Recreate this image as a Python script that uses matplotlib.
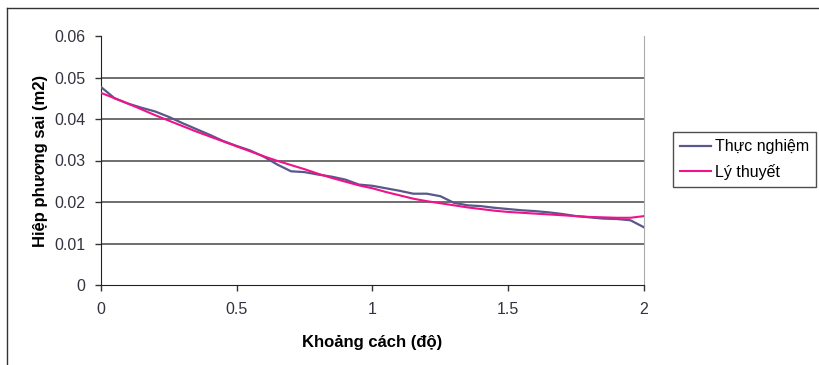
import numpy as np
import matplotlib
matplotlib.use("Agg")
from matplotlib import pyplot as plt
from matplotlib.lines import Line2D

plt.rcParams["font.family"] = ["Liberation Sans", "DejaVu Sans"]

distance = np.arange(41) * 0.05

experimental = [
    0.0477, 0.0450, 0.0437, 0.0427, 0.0418, 0.0405, 0.0390, 0.0376, 0.0362, 0.0347,
    0.0335, 0.0324, 0.0309, 0.0290, 0.0274, 0.0272, 0.0266, 0.0261, 0.0254, 0.0242,
    0.0239, 0.0233, 0.0227, 0.0220, 0.0220, 0.0214, 0.0198, 0.0192, 0.0190, 0.0186,
    0.0183, 0.0180, 0.0178, 0.0175, 0.0171, 0.0166, 0.0163, 0.0160, 0.0159, 0.0156,
    0.0139,
]

theoretical = [
    0.0463, 0.0450, 0.0437, 0.0423, 0.0409, 0.0396, 0.0383, 0.0370, 0.0358, 0.0346,
    0.0334, 0.0322, 0.0310, 0.0299, 0.0289, 0.0279, 0.0268, 0.0258, 0.0249, 0.0240,
    0.0233, 0.0224, 0.0216, 0.0208, 0.0202, 0.0197, 0.0192, 0.0187, 0.0183, 0.0179,
    0.0176, 0.0174, 0.0172, 0.0170, 0.0168, 0.0166, 0.0164, 0.0163, 0.0162, 0.0162,
    0.0166,
]

x_ticks = [0, 0.5, 1, 1.5, 2]
x_tick_labels = ["0", "0.5", "1", "1.5", "2"]
y_ticks = [0, 0.01, 0.02, 0.03, 0.04, 0.05, 0.06]
y_tick_labels = ["0", "0.01", "0.02", "0.03", "0.04", "0.05", "0.06"]


def main():
    fig = plt.figure(figsize=(8.2, 3.65), dpi=100)
    ax = fig.add_axes([101 / 820, 1 - 285 / 365, 543 / 820, 249 / 365])

    # outer chart border
    fig.add_artist(Line2D([7 / 820, 7 / 820], [0, 1 - 8 / 365], color="#333333", lw=1))
    fig.add_artist(Line2D([7 / 820, 1], [1 - 8 / 365, 1 - 8 / 365], color="#333333", lw=1))

    for v in y_ticks[1:-1]:
        ax.axhline(v, color="#555555", lw=1.2, zorder=1)

    ax.plot(distance, experimental, color="#58588a", lw=1.6, label="Thực nghiệm", zorder=3)
    ax.plot(distance, theoretical, color="#f0128a", lw=1.5, label="Lý thuyết", zorder=4)

    ax.set_xlim(0, 2)
    ax.set_ylim(0, 0.06)
    ax.set_xticks(x_ticks)
    ax.set_xticklabels(x_tick_labels)
    ax.set_yticks(y_ticks)
    ax.set_yticklabels(y_tick_labels)
    ax.tick_params(labelsize=11.5, colors="#333333", length=4, width=1)
    ax.tick_params(axis="y", pad=7)
    ax.tick_params(axis="x", pad=8)
    for lbl in ax.get_xticklabels() + ax.get_yticklabels():
        lbl.set_color("#333340")

    ax.spines["top"].set_visible(False)
    ax.spines["right"].set_color("#aaaaaa")
    ax.spines["left"].set_color("#222222")
    ax.spines["bottom"].set_color("#222222")

    ax.set_xlabel("Khoảng cách (độ)", fontsize=12, fontweight="bold", labelpad=13)
    ax.set_ylabel("Hiệp phương sai (m2)", fontsize=12, fontweight="bold", labelpad=5)

    leg = ax.legend(loc="upper left", bbox_to_anchor=(673 / 820, 1 - 132 / 365),
                    bbox_transform=fig.transFigure, fontsize=11.5,
                    frameon=True, fancybox=False, handlelength=1.9, handletextpad=0.25,
                    borderpad=0.45, labelspacing=0.6, borderaxespad=0)
    leg.get_frame().set_edgecolor("#222222")
    leg.get_frame().set_linewidth(1)

    fig.savefig("out.png", dpi=100)


if __name__ == "__main__":
    main()
